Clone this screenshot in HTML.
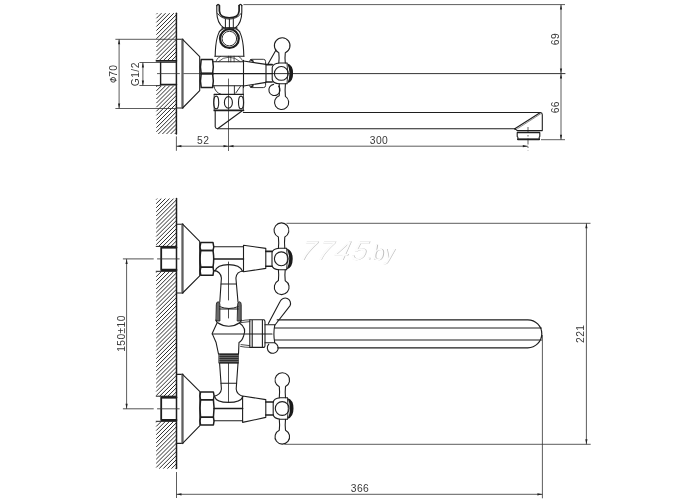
<!DOCTYPE html>
<html><head><meta charset="utf-8">
<style>
html,body{margin:0;padding:0;background:#fff;width:700px;height:500px;overflow:hidden}
svg{display:block;will-change:transform}
text{font-family:"Liberation Sans",sans-serif;fill:#3a3a3a}
</style></head>
<body>
<svg width="700" height="500" viewBox="0 0 700 500">
<defs>
<pattern id="hatch" patternUnits="userSpaceOnUse" width="2.9" height="2.9" patternTransform="rotate(45)">
<line x1="0" y1="0" x2="0" y2="2.9" stroke="#2a2a2a" stroke-width="1.05"/>
</pattern>
</defs>

<g fill="none" stroke="#1e1e1e" stroke-width="1.1" stroke-linejoin="round" stroke-linecap="round">
<path d="M156.40,14.20L157.40,13.20M156.40,18.30L161.50,13.20M156.40,22.40L165.60,13.20M156.40,26.50L169.70,13.20M156.40,30.60L173.80,13.20M156.40,34.70L176.40,14.70M156.40,38.80L176.40,18.80M156.40,42.90L176.40,22.90M156.40,47.00L176.40,27.00M156.40,51.10L176.40,31.10M156.40,55.20L176.40,35.20M156.40,59.30L176.40,39.30M159.00,60.80L176.40,43.40M163.10,60.80L176.40,47.50M167.20,60.80L176.40,51.60M171.30,60.80L176.40,55.70M175.40,60.80L176.40,59.80" stroke="#2e2e2e" stroke-width="1.0" fill="none" stroke-linecap="butt"/>
<path d="M156.40,86.70L157.40,85.70M156.40,90.80L161.50,85.70M156.40,94.90L165.60,85.70M156.40,99.00L169.70,85.70M156.40,103.10L173.80,85.70M156.40,107.20L176.40,87.20M156.40,111.30L176.40,91.30M156.40,115.40L176.40,95.40M156.40,119.50L176.40,99.50M156.40,123.60L176.40,103.60M156.40,127.70L176.40,107.70M156.40,131.80L176.40,111.80M158.30,134.00L176.40,115.90M162.40,134.00L176.40,120.00M166.50,134.00L176.40,124.10M170.60,134.00L176.40,128.20M174.70,134.00L176.40,132.30" stroke="#2e2e2e" stroke-width="1.0" fill="none" stroke-linecap="butt"/>
<line x1="176.4" y1="13.2" x2="176.4" y2="134" stroke-width="1.5"/>
<path d="M156.4,60.8H176.4 M160.6,84.6H176.4" stroke-width="1.7"/>
<path d="M156.4,85.7H160.6 M160.6,62.5H176.4" stroke-width="0.8"/>
<path d="M160.6,62.5V84.6" stroke-width="1.4"/>
<path d="M176.4,39.3H182.6 M176.4,108H182.6"/>
<line x1="182.5" y1="39.6" x2="182.5" y2="107.7" stroke-width="2.3" stroke="#606060"/>
<path d="M182.6,39.3L199.7,56.6V90.6L182.6,108"/>
<path d="M201.20,59.60 H212.60 Q214.00,66.60 212.60,73.60 H201.20 Q199.80,66.60 201.20,59.60Z" stroke-width="1.5"/>
<path d="M201.20,73.60 H212.60 Q214.00,80.55 212.60,87.50 H201.20 Q199.80,80.55 201.20,73.60Z" stroke-width="1.5"/>
<path d="M213.2,61.8H243.5 M213.2,85.8H243.5 M243.5,60.4V87.6"/>
<path d="M215.2,56 Q215.6,33 222.3,28.6 M243.8,56 Q243.4,33 236.6,28.6"/>
<path d="M219,31.5 Q224,27.6 229.4,27.8 Q235,27.6 240,31.5" stroke-width="0.8"/>
<circle cx="229.4" cy="38.6" r="9.4" stroke-width="2.2"/>
<circle cx="229.4" cy="38.6" r="7.3" stroke-width="0.9"/>
<path d="M216.8,5.6 V12 Q216.9,23 223.6,27.8 M241.8,5.6 V12 Q241.7,23 235.4,27.8"/>
<path d="M219.4,5.6 V11 Q219.8,17.6 229.3,17.8 Q238.8,17.6 239.1,11 V5.6" stroke-width="1.7"/>
<path d="M216.8,5.6 Q218.1,3.2 219.4,5.6 M239.1,5.6 Q240.5,3.2 241.8,5.6" stroke-width="1.3"/>
<path d="M217.6,13.5 Q221,18.8 229.3,19.1 Q237.6,18.8 241,13.5" stroke-width="0.9"/>
<path d="M225.4,19 V27.6 M229.4,19.2V27.6 M233.3,19 V27.6" stroke-width="1"/>
<path d="M222,27.8 H237" stroke-width="1.2"/>
<path d="M214.8,56.2H244"/>
<path d="M215.8,61.5 Q217,57.5 220.5,56.4 M243,61.5 Q241.5,57.5 238.5,56.4 M228.6,56.2V61.8 M230.8,56.2V61.8 M234.1,56.2V61.8 M218.5,61.5 Q223,57.2 229,57.2 Q235,57.2 240,61.5" stroke-width="0.7"/>
<path d="M214.2,94.3H243.4" stroke-width="1.2"/>
<path d="M213.8,85.8 Q215,92.6 221,94.3 M243.2,85.8 V94.3 M234.4,86V94.3 M235.8,93 L240.4,86.4" stroke-width="0.9"/>
<ellipse cx="216.2" cy="102.4" rx="2.5" ry="6.3"/>
<ellipse cx="228.4" cy="102.4" rx="4" ry="5.8"/>
<ellipse cx="241" cy="102.4" rx="2.5" ry="6.3"/>
<path d="M214.2,94.3 Q213.4,102.4 214.2,110.4 M243.4,94.3 Q244.2,102.4 243.4,110.4" stroke-width="0.8"/>
<line x1="214.4" y1="110.4" x2="243.4" y2="110.4" stroke-width="1.8"/>
<path d="M215.2,110.4V126.8 Q215.4,128.7 217.6,128.7 L241.6,111.2"/>
<path d="M217.6,128.7H514.8 L539.6,113 M243.4,112.5H540.4 Q542.3,112.7 542.3,114.8 V130.6 H517.4 L514.8,128.6"/>
<path d="M516.6,113 M517.6,128.6 L541,113.6" stroke-width="0.5"/>
<circle cx="515.2" cy="129" r="1" fill="#222" stroke="none"/>
<path d="M517.2,130.6 H539.8 M517.2,132.6 H539.8 V136.4 Q539.2,136.8 539.2,137.6 V139.4 H517.9 V137.6 Q517.9,136.8 517.2,136.4 Z" stroke-width="1.1"/>
<path d="M517.9,139.4 H539.2" stroke-width="1.6"/>
<path d="M243.5,61 L266,64.4 V82.4 L243.5,86"/>
<path d="M249.6,61.5 Q249.6,59.3 251.8,59.3 H263.4 Q265.6,59.3 265.6,61.6 V64 M249.6,85.6 Q249.6,87.6 251.8,87.6 H263.4 Q265.6,87.6 265.6,85.4 V83" stroke-width="0.9"/>
<path d="M251,59.9 L253,61.2 M251,87 L253,85.8" stroke-width="1.6"/>
<path d="M266,64.6 H272.2 M266,82 H272.2" stroke-width="1.6"/>
<path d="M279.30,63.00 Q272.80,63.50 272.20,67.50 V79.30 Q272.80,83.30 279.30,83.80 M279.30,63.00 H287.10 M279.30,83.80 H287.10"/>
<circle cx="281.3" cy="73.4" r="6.9"/>
<path d="M287.00,63.20 Q293.20,65.00 293.10,73.40 Q293.20,81.80 287.00,83.60 Q292.20,73.40 287.00,63.20Z" fill="#1a1a1a" stroke="none"/>
<path d="M287.00,63.30 Q288.80,73.40 287.00,83.50" stroke-width="0.9"/>
<path d="M278.80,63.00 Q279.40,57.81 278.80,52.62 A7.8,7.8 0 1 1 285.30,52.76 Q284.70,57.81 285.30,63.00"/>
<path d="M268.2,63.8 L276,50"/>
<path d="M279.20,83.80 Q279.80,89.76 279.20,95.72 A7.1,7.1 0 1 0 285.40,96.40 Q284.80,89.76 285.40,83.80"/>
<path d="M273.6,84.4 A5.6,5.6 0 1 0 278.6,86.2"/>
<path d="M157,73.6H179.8 M183.4,73.6H200.4" stroke-width="0.8" stroke="#333" stroke-linecap="butt"/>
<path d="M200.4,73.6H213.4" stroke-width="1.7"/>
<path d="M213.4,73.6H272.2" stroke-width="1.3"/>
<path d="M272,73.6H565" stroke-width="0.9"/>
<path d="M228.5,79V150.6" stroke-width="0.7"/>
<path d="M528,127V150.4" stroke-width="0.7" stroke-dasharray="6,2,1.5,2" stroke-linecap="butt"/>
</g>
<g fill="none" stroke="#333" stroke-width="0.8">
<path d="M243.4,4.6H565 M541,139.7H565 M561,4.6V139.7"/>
<path d="M115.4,39.3H177 M115.4,108.5H177 M119.1,39.3V108.5"/>
<path d="M139.4,62.5H160 M139.4,85.5H160 M142.9,62.5V85.5"/>
<path d="M176.4,136.4V150.8 M176.4,146.2H527.8"/>
</g>
<g fill="#222" stroke="none">
<path d="M561,4.6 l-1.1,5 h2.2z M561,73.6 l-1.1,-5 h2.2z M561,73.6 l-1.1,5 h2.2z M561,139.7 l-1.1,-5 h2.2z"/>
<path d="M119.1,39.3 l-1.1,5 h2.2z M119.1,108.5 l-1.1,-5 h2.2z"/>
<path d="M142.9,62.5 l-1.1,5 h2.2z M142.9,85.5 l-1.1,-5 h2.2z"/>
<path d="M176.4,146.2 l5,-1.1 v2.2z M228.5,146.2 l-5,-1.1 v2.2z M228.5,146.2 l5,-1.1 v2.2z M527.8,146.2 l-5,-1.1 v2.2z"/>
</g>
<g font-size="10.3" letter-spacing="0.4">
<text transform="translate(559.2,39) rotate(-90)" text-anchor="middle">69</text>
<text transform="translate(559.2,107.2) rotate(-90)" text-anchor="middle">66</text>
<text transform="translate(117,76.8) rotate(-90)">70</text>
<text transform="translate(139,74.2) rotate(-90)" text-anchor="middle">G1/2</text>
<text x="203.2" y="144.4" text-anchor="middle">52</text>
<text x="379" y="144.4" text-anchor="middle">300</text>
</g>
<g fill="none" stroke="#333" stroke-width="0.9"><circle cx="113.2" cy="79.8" r="2.4"/><path d="M109.9,79.2 L116.5,80.4"/></g>
<g fill="none" stroke="#1e1e1e" stroke-width="1.1" stroke-linejoin="round" stroke-linecap="round">
<path d="M156.20,199.60L157.20,198.60M156.20,203.70L161.30,198.60M156.20,207.80L165.40,198.60M156.20,211.90L169.50,198.60M156.20,216.00L173.60,198.60M156.20,220.10L176.50,199.80M156.20,224.20L176.50,203.90M156.20,228.30L176.50,208.00M156.20,232.40L176.50,212.10M156.20,236.50L176.50,216.20M156.20,240.60L176.50,220.30M156.20,244.70L176.50,224.40M158.40,246.60L176.50,228.50M162.50,246.60L176.50,232.60M166.60,246.60L176.50,236.70M170.70,246.60L176.50,240.80M174.80,246.60L176.50,244.90" stroke="#2e2e2e" stroke-width="1.0" fill="none" stroke-linecap="butt"/>
<path d="M156.20,272.60L157.20,271.60M156.20,276.70L161.30,271.60M156.20,280.80L165.40,271.60M156.20,284.90L169.50,271.60M156.20,289.00L173.60,271.60M156.20,293.10L176.50,272.80M156.20,297.20L176.50,276.90M156.20,301.30L176.50,281.00M156.20,305.40L176.50,285.10M156.20,309.50L176.50,289.20M156.20,313.60L176.50,293.30M156.20,317.70L176.50,297.40M156.20,321.80L176.50,301.50M156.20,325.90L176.50,305.60M156.20,330.00L176.50,309.70M156.20,334.10L176.50,313.80M156.20,338.20L176.50,317.90M156.20,342.30L176.50,322.00M156.20,346.40L176.50,326.10M156.20,350.50L176.50,330.20M156.20,354.60L176.50,334.30M156.20,358.70L176.50,338.40M156.20,362.80L176.50,342.50M156.20,366.90L176.50,346.60M156.20,371.00L176.50,350.70M156.20,375.10L176.50,354.80M156.20,379.20L176.50,358.90M156.20,383.30L176.50,363.00M156.20,387.40L176.50,367.10M156.20,391.50L176.50,371.20M156.20,395.60L176.50,375.30M159.70,396.20L176.50,379.40M163.80,396.20L176.50,383.50M167.90,396.20L176.50,387.60M172.00,396.20L176.50,391.70M176.10,396.20L176.50,395.80" stroke="#2e2e2e" stroke-width="1.0" fill="none" stroke-linecap="butt"/>
<path d="M156.20,422.40L157.20,421.40M156.20,426.50L161.30,421.40M156.20,430.60L165.40,421.40M156.20,434.70L169.50,421.40M156.20,438.80L173.60,421.40M156.20,442.90L176.50,422.60M156.20,447.00L176.50,426.70M156.20,451.10L176.50,430.80M156.20,455.20L176.50,434.90M156.20,459.30L176.50,439.00M156.20,463.40L176.50,443.10M156.20,467.50L176.50,447.20M159.20,468.60L176.50,451.30M163.30,468.60L176.50,455.40M167.40,468.60L176.50,459.50M171.50,468.60L176.50,463.60M175.60,468.60L176.50,467.70" stroke="#2e2e2e" stroke-width="1.0" fill="none" stroke-linecap="butt"/>
<line x1="176.5" y1="198.6" x2="176.5" y2="468.6" stroke-width="1.5"/>
<path d="M156.2,246.4H176.5 M156.2,271.3H176.5 M156.2,396.2H176.5 M156.2,421.3H176.5" stroke-width="1"/>
<path d="M176.5,247.4H161.2V270H176.5 M176.5,397.3H161.2V420.1H176.5" stroke-width="1.8"/>
<path d="M161,247.4H176.5 M161,270H176.5 M161,397.3H176.5 M161,420.1H176.5" stroke-width="2.3" stroke-linecap="butt"/>
<path d="M176.5,224.2H182.6 M176.5,293H182.6"/>
<line x1="182.5" y1="224.5" x2="182.5" y2="292.7" stroke-width="2.3" stroke="#606060"/>
<path d="M182.6,224.2L199.7,241.4V275.9L182.6,293"/>
<path d="M200.80,242.50 H213.00 Q214.40,246.55 213.00,250.60 H200.80 Q199.40,246.55 200.80,242.50Z" stroke-width="1.5"/>
<path d="M200.80,250.60 H213.00 Q214.40,258.90 213.00,267.20 H200.80 Q199.40,258.90 200.80,250.60Z" stroke-width="1.5"/>
<path d="M200.80,267.20 H213.00 Q214.40,271.20 213.00,275.20 H200.80 Q199.40,271.20 200.80,267.20Z" stroke-width="1.5"/>
<path d="M213.6,246.7H243.5"/>
<path d="M213.6,259H243.5" stroke-width="1.5"/>
<path d="M215,271.2 Q217,264.6 228.5,264.6 Q240,264.6 242.5,271.2"/>
<path d="M213.6,270.4 Q220.6,271.2 221.4,278 L219.8,302 M243.5,271 Q236.6,271.4 235.9,278 L238,302"/>
<path d="M221.2,284H236"/>
<path d="M243.5,245.2 L265.8,248.4 V268.4 L243.5,271.8Z"/>
<path d="M265.8,251.4 H272 M265.8,266.2 H272" stroke-width="1.6"/>
<path d="M279.30,248.20 Q272.60,248.70 272.00,252.70 V265.30 Q272.60,269.30 279.30,269.80 M279.30,248.20 H286.70 M279.30,269.80 H286.70"/>
<circle cx="281.3" cy="258.8" r="6.9"/>
<path d="M286.60,248.40 Q292.80,250.20 292.70,258.80 Q292.80,267.80 286.60,269.60 Q291.80,258.80 286.60,248.40Z" fill="#1a1a1a" stroke="none"/>
<path d="M286.60,248.50 Q288.40,258.80 286.60,269.50" stroke-width="0.9"/>
<path d="M278.40,248.20 Q279.00,242.61 278.40,237.02 A7.4,7.4 0 1 1 284.80,236.92 Q284.20,242.61 284.80,248.20"/>
<path d="M278.40,269.80 Q279.00,275.19 278.40,280.58 A7.4,7.4 0 1 0 285.20,280.68 Q284.60,275.19 285.20,269.80"/>
<path d="M216.3,304.5 Q216.3,301.8 218.1,301.8 Q219.9,301.8 219.9,304.5 V321 H216.3Z M237.6,304.5 Q237.6,301.8 239.4,301.8 Q241.2,301.8 241.2,304.5 V321 H237.6Z" fill="#6a6a6a" stroke-width="0.9"/>
<path d="M219.6,306.6 Q229,310.5 238.2,306.6 M219.6,309 H238.2" stroke-width="1"/>
<path d="M216,320 Q216.5,322 217.2,322.5 Q229,330 240,322.5 Q241,322 241.2,320"/>
<path d="M217,323 L212.2,333.6 L216,342.2 L218.5,354 M239.5,323 Q247,328 243.6,336 Q242,341 239,342.5 L238.5,354"/>
<path d="M212.2,334H272"/>
<path d="M228.5,262V300 M228.5,309V318 M228.5,363V402" stroke-width="0.8"/>
<rect x="219.2" y="353.8" width="19.2" height="9.4" fill="#2a2a2a" stroke="#222" stroke-width="0.8"/>
<path d="M219.4,355.6H238.2 M219.4,357.6H238.2 M219.4,359.6H238.2 M219.4,361.6H238.2" stroke="#8a8a8a" stroke-width="0.7"/>
<path d="M219.6,363.2 L221.4,389 Q221,394.4 214.2,396.4 M238,363.2 L236.2,389 Q236.6,394.4 243,396.4"/>
<path d="M221,383.2H236.6"/>
<path d="M214.8,397 Q216.4,402.4 228.6,402.4 Q240.8,402.4 242.6,397"/>
<path d="M176.5,374.4H182.6 M176.5,443.4H182.6"/>
<line x1="182.5" y1="374.7" x2="182.5" y2="443.1" stroke-width="2.3" stroke="#606060"/>
<path d="M182.6,374.4L199.9,391.6V425.6L182.6,443.4"/>
<path d="M200.60,392.00 H213.40 Q214.80,395.85 213.40,399.70 H200.60 Q199.20,395.85 200.60,392.00Z" stroke-width="1.5"/>
<path d="M200.60,399.70 H213.40 Q214.80,408.50 213.40,417.30 H200.60 Q199.20,408.50 200.60,399.70Z" stroke-width="1.5"/>
<path d="M200.60,417.30 H213.40 Q214.80,421.15 213.40,425.00 H200.60 Q199.20,421.15 200.60,417.30Z" stroke-width="1.5"/>
<path d="M214,408.6H242.6" stroke-width="1.5"/>
<path d="M214,420.8H242.6"/>
<path d="M242.6,396 L265.8,399.6 V417.4 L242.6,422.4Z"/>
<path d="M265.8,402 H273.2 M265.8,415 H273.2" stroke-width="1.6"/>
<path d="M280.20,397.80 Q273.80,398.30 273.20,402.30 V414.70 Q273.80,418.70 280.20,419.20 M280.20,397.80 H287.50 M280.20,419.20 H287.50"/>
<circle cx="282.2" cy="408.5" r="6.9"/>
<path d="M287.40,398.00 Q293.60,399.80 293.50,408.50 Q293.60,417.20 287.40,419.00 Q292.60,408.50 287.40,398.00Z" fill="#1a1a1a" stroke="none"/>
<path d="M287.40,398.10 Q289.20,408.50 287.40,418.90" stroke-width="0.9"/>
<path d="M279.30,397.80 Q279.90,392.23 279.30,386.66 A7.3,7.3 0 1 1 285.50,386.56 Q284.90,392.23 285.50,397.80"/>
<path d="M279.30,419.20 Q279.90,424.67 279.30,430.14 A7.3,7.3 0 1 0 285.50,430.24 Q284.90,424.67 285.50,419.20"/>
<path d="M240.5,321 Q245,319.8 249.8,319.8 M241,322.6 L249.8,321.6 M240.5,346.4 Q245,347.4 249.8,347.4 M241,344.6 L249.8,345.6" stroke-width="0.8"/>
<path d="M249.8,319.8H264.2 Q265,320.5 265,322 V345.2 Q265,346.8 264.2,347.4 H249.8Z M252.2,319.8V347.4 M262.4,319.8V347.4"/>
<path d="M265,324.8H274.8 Q273,334 274.8,342.8 H265"/>
<path d="M268.4,323.6 L280.2,301.3 A5.3,5.3 0 0 1 290.1,305.6 L275,325"/>
<path d="M268.8,344.2 A5.4,5.4 0 1 0 275,343"/>
<path d="M277.2,319.8H527.8 A14,14 0 0 1 527.8,347.8 H277.8" stroke-width="1.2"/>
<path d="M275,328H541.4 M275,340H541.4" stroke-width="1.2"/>
</g>
<g fill="none" stroke="#333" stroke-width="0.8">
<path d="M122.9,258.9H153.7 M157.1,258.9H179.6 M122.9,408.8H153.7 M157.1,408.8H179.6" stroke-width="0.85"/>
<path d="M126.6,258.9V408.8"/>
<path d="M286.4,223.3H590.5 M284.4,444.3H590.7 M586.4,223.3V444.3"/>
<path d="M542.4,335V498.3 M176.5,472V498 M176.5,494.3H542.4"/>
</g>
<g fill="#222" stroke="none">
<path d="M126.6,258.9 l-1.1,5 h2.2z M126.6,408.8 l-1.1,-5 h2.2z"/>
<path d="M586.4,223.3 l-1.1,5 h2.2z M586.4,444.3 l-1.1,-5 h2.2z"/>
<path d="M176.5,494.3 l5,-1.1 v2.2z M542.4,494.3 l-5,-1.1 v2.2z"/>
</g>
<g font-size="10.3" letter-spacing="0.4">
<text transform="translate(125.1,333.5) rotate(-90)" text-anchor="middle">150±10</text>
<text transform="translate(583.6,333.8) rotate(-90)" text-anchor="middle">221</text>
<text x="360" y="491.5" text-anchor="middle">366</text>
</g>
<g transform="translate(296.5,259.5) skewX(-24)"><text x="1" y="0.7" font-size="27" letter-spacing="2.4" style="fill:#bdbdbd">7745</text><text x="0" y="0" font-size="27" letter-spacing="2.4" style="fill:#fdfdfd">7745</text></g>
<g transform="translate(365.5,259.5) skewX(-10)"><text x="0.9" y="0.6" font-size="21" style="fill:#bdbdbd">.by</text><text x="0" y="0" font-size="21" style="fill:#fdfdfd">.by</text></g>
</svg>
</body></html>
